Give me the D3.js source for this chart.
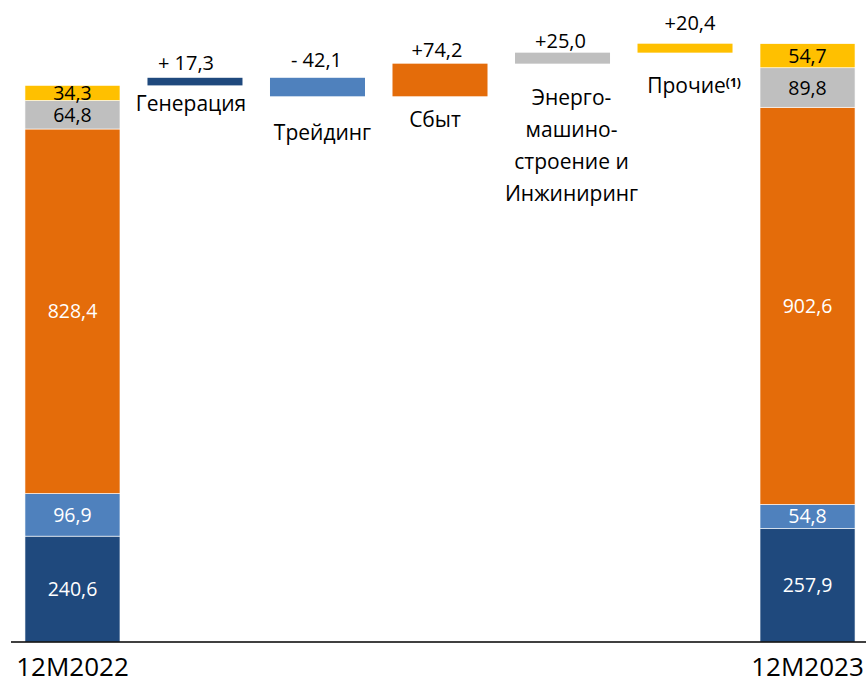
<html>
<head>
<meta charset="utf-8">
<title>Waterfall 12M2022 - 12M2023</title>
<style type="text/css">
  body { margin: 0; background: #fff; }
  text { font-family: "Open Sans", "Noto Sans", sans-serif; }
</style>
</head>
<body>
<script src="https://d3js.org/d3.v7.min.js"></script>
<script>

// data
var categories = ["12M2022", "Генерация", "Трейдинг", "Сбыт", "Энерго-машино-строение и Инжиниринг", "Прочие", "12M2023"];
var segments = ["Генерация", "Трейдинг", "Сбыт", "Энергомашиностроение", "Прочие"];
var start2022 = [240.6, 96.9, 828.4, 64.8, 34.3];
var end2023 = [257.9, 54.8, 902.6, 89.8, 54.7];
var changes = [17.3, -42.1, 74.2, 25.0, 20.4];
var changeLabels = ["+ 17,3", "-  42,1", "+74,2", "+25,0", "+20,4"];
var categoryLines = [["Генерация"], ["Трейдинг"], ["Сбыт"], ["Энерго-", "машино-", "строение и", "Инжиниринг"], ["Прочие"]];

var colors = ["#1f497d", "#4f81bd", "#e46c0a", "#bfbfbf", "#ffc000"];
var innerText = ["#fff", "#fff", "#fff", "#000", "#000"];

var W = 866, H = 683;
// text box placement round the floating bars (as laid out on the slide)
var nameGap = [18, 36, 23, 34, 33];
var nameShift = [-4, 5, -5, 9, 9];
var chgLift = [15, 18, 14, 12, 21];
var chgShift = [-9, -1, -3, -2, 5];

var svg = d3.select("body").append("svg")
    .attr("width", W)
    .attr("height", H);

var x = d3.scaleBand()
    .domain(categories)
    .range([11.25, 868.75])
    .paddingInner(0.2245)
    .paddingOuter(0.112);

var y = d3.scaleLinear()
    .domain([0, 1400])
    .range([642, 642 - 1400 * 0.44]);

function fmt(v) { return v.toFixed(1).replace(".", ","); }

// stacked totals
function drawStack(cat, vals) {
  var acc = 0;
  var stack = vals.map(function(v, i) {
    var d = {y0: acc, y1: acc + v, v: v, i: i};
    acc += v;
    return d;
  });
  var g = svg.append("g");
  g.selectAll("rect")
      .data(stack)
      .enter().append("rect")
      .attr("x", x(cat))
      .attr("width", x.bandwidth())
      .attr("y", function(d) { return y(d.y1); })
      .attr("height", function(d) { return y(d.y0) - y(d.y1); })
      .style("fill", function(d) { return colors[d.i]; })
      .style("stroke", "#fff")
      .style("stroke-width", 0.6);
  g.selectAll("text")
      .data(stack)
      .enter().append("text")
      .attr("x", x(cat) + x.bandwidth() / 2)
      .attr("y", function(d) { return (y(d.y0) + y(d.y1)) / 2; })
      .attr("dy", "0.36em")
      .attr("text-anchor", "middle")
      .style("font-size", "19.5px")
      .style("fill", function(d) { return innerText[d.i]; })
      .text(function(d) { return fmt(d.v); });
}

drawStack(categories[0], start2022);
drawStack(categories[6], end2023);

// floating bars
var level = d3.sum(start2022);
var steps = changes.map(function(c, i) {
  var d = {from: level, to: level + c, i: i, cat: categories[i + 1]};
  level += c;
  return d;
});

var fg = svg.append("g");
fg.selectAll("rect")
    .data(steps)
    .enter().append("rect")
    .attr("x", function(d) { return x(d.cat); })
    .attr("width", x.bandwidth())
    .attr("y", function(d) { return y(Math.max(d.from, d.to)); })
    .attr("height", function(d) { return Math.abs(y(d.from) - y(d.to)); })
    .style("fill", function(d) { return colors[d.i]; });

fg.selectAll(".chg")
    .data(steps)
    .enter().append("text")
    .attr("class", "chg")
    .attr("x", function(d) { return x(d.cat) + x.bandwidth() / 2 + chgShift[d.i]; })
    .attr("y", function(d) { return y(Math.max(d.from, d.to)) - chgLift[d.i]; })
    .attr("dy", "0.36em")
    .attr("text-anchor", "middle")
    .style("font-size", "20px")
    .style("fill", "#000")
    .text(function(d) { return changeLabels[d.i]; });

var names = fg.selectAll(".name")
    .data(steps)
    .enter().append("text")
    .attr("class", "name")
    .attr("text-anchor", "middle")
    .style("font-size", "21px")
    .style("fill", "#000")
    .attr("transform", function(d) {
      var b = y(Math.min(d.from, d.to));
      return "translate(" + (x(d.cat) + x.bandwidth() / 2 + nameShift[d.i]) + "," + (b + nameGap[d.i]) + ")";
    });

names.each(function(d) {
  var t = d3.select(this);
  categoryLines[d.i].forEach(function(line, k) {
    t.append("tspan")
        .attr("x", 0)
        .attr("y", k * 32)
        .attr("dy", "0.36em")
        .text(line);
  });
  if (d.i === 4) {
    t.append("tspan")
        .attr("dy", "-0.55em")
        .style("font-size", "12px")
        .style("font-weight", "bold")
        .text("(1)");
  }
});

// baseline
svg.append("line")
    .attr("x1", 11)
    .attr("x2", W)
    .attr("y1", y(0))
    .attr("y2", y(0))
    .style("stroke", "#000")
    .style("stroke-width", 1.5);

// period labels
svg.selectAll(".period")
    .data([categories[0], categories[6]])
    .enter().append("text")
    .attr("class", "period")
    .attr("x", function(d) { return x(d) + x.bandwidth() / 2; })
    .attr("y", 676)
    .attr("text-anchor", "middle")
    .style("font-size", "26px")
    .style("fill", "#000")
    .text(function(d) { return d; });

</script>
</body>
</html>
